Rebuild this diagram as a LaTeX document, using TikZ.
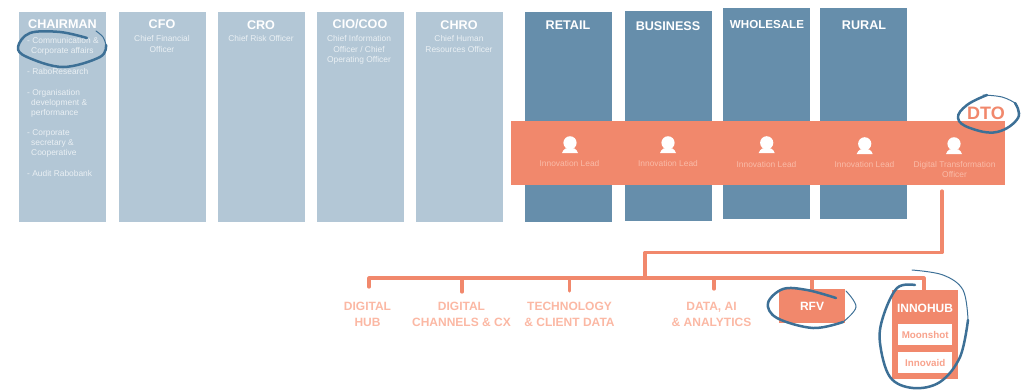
\documentclass[tikz,border=0pt]{standalone}
\usepackage{fontspec}
\setmainfont{Liberation Sans}
\definecolor{paleblue}{HTML}{B3C7D6}
\definecolor{midblue}{HTML}{668EAB}
\definecolor{coral}{HTML}{F1886C}
\definecolor{palecoral}{HTML}{FBB8A4}
\definecolor{innertext}{HTML}{F8A28C}
\definecolor{leadtext}{HTML}{FABBA8}
\definecolor{subtext}{HTML}{EAF0F4}
\definecolor{inkblue}{HTML}{3D7096}
\newcommand{\personicon}[2]{%
  \fill[white] (#1,#2-3.2) circle (6.6);
  \fill[white] (#1-8,#2+7) .. controls (#1-6.5,#2+2.5) and (#1-3,#2+1.5) .. (#1,#2+1.5) .. controls (#1+3,#2+1.5) and (#1+6.5,#2+2.5) .. (#1+8,#2+7) -- cycle;
}
\tikzset{
  x=1pt,y=-1pt,
  column/.style={anchor=north west,inner sep=0pt,minimum width=87pt},
  paleblock/.style={column,fill=paleblue,minimum height=210pt},
  midblock/.style={column,fill=midblue,minimum height=210pt},
  headtext/.style={text=white,font=\bfseries\fontsize{12.6}{15}\selectfont,inner sep=0pt,anchor=center},
  subnote/.style={text=subtext,font=\fontsize{8.4}{10.8}\selectfont,inner sep=0pt,align=center,anchor=north},
  listnote/.style={text=subtext,font=\fontsize{8.4}{10}\selectfont,inner sep=0pt,align=left,anchor=north west},
  leadnote/.style={text=leadtext,font=\fontsize{8.4}{10}\selectfont,inner sep=0pt,align=center,anchor=north},
  unitlabel/.style={text=palecoral,font=\bfseries\fontsize{12}{16}\selectfont,inner sep=0pt,align=center,anchor=north},
  link/.style={draw=coral,line width=3.2pt,line cap=round,line join=round},
  scribble/.style={draw=inkblue,line width=2.5pt,line cap=round,line join=round},
  scribbleend/.style={draw=inkblue,line width=1pt,line cap=round},
  innerbox/.style={fill=white,text=innertext,font=\bfseries\fontsize{9.8}{11}\selectfont,minimum width=54pt,minimum height=21pt,inner sep=0pt,anchor=north west},
}
\begin{document}
\begin{tikzpicture}
\useasboundingbox (0,0) rectangle (1024,389);
% pale columns
\node[paleblock] (chairbox) at (19,12) {};
\node[paleblock] (cfobox) at (119,12) {};
\node[paleblock] (crobox) at (218,12) {};
\node[paleblock] (ciobox) at (317,12) {};
\node[paleblock] (chrobox) at (416,12) {};
% dark columns
\node[midblock] (retailbox) at (525,12) {};
\node[midblock,minimum height=210pt] (businessbox) at (625,11) {};
\node[midblock,minimum height=211pt] (wholesalebox) at (723,8) {};
\node[midblock,minimum height=211pt] (ruralbox) at (820,8) {};
% band
\node[fill=coral,anchor=north west,inner sep=0pt,minimum width=494pt,minimum height=64pt] (band) at (511,121) {};
% headers
\node[headtext] (chairhead) at (62.5,24.5) {CHAIRMAN};
\node[headtext] (cfohead) at (162,24.5) {CFO};
\node[headtext] (crohead) at (261,25) {CRO};
\node[headtext] (ciohead) at (360,24.5) {CIO/COO};
\node[headtext] (chrohead) at (459,25) {CHRO};
\node[headtext] (retailhead) at (568,25) {RETAIL};
\node[headtext] (businesshead) at (668,26.5) {BUSINESS};
\node[headtext,font=\bfseries\fontsize{11.6}{15}\selectfont] (wholesalehead) at (767,24.5) {WHOLESALE};
\node[headtext] (ruralhead) at (864,25.5) {RURAL};
% chairman list
\node[listnote] (l1) at (27,37.5) {- Communication \&\\\hspace*{4pt}Corporate affairs};
\node[listnote] (l2) at (27,68) {- RaboResearch};
\node[listnote] (l3) at (27,89) {- Organisation\\\hspace*{4pt}development \&\\\hspace*{4pt}performance};
\node[listnote] (l4) at (27,129) {- Corporate\\\hspace*{4pt}secretary \&\\\hspace*{4pt}Cooperative};
\node[listnote] (l5) at (27,170) {- Audit Rabobank};
% subtitles
\node[subnote] (cfonote) at (162,35) {Chief Financial\\Officer};
\node[subnote] (cronote) at (261,35) {Chief Risk Officer};
\node[subnote] (cionote) at (359,35) {Chief Information\\Officer / Chief\\Operating Officer};
\node[subnote] (chronote) at (459,35) {Chief Human\\Resources Officer};
% leads
\personicon{570}{146}
\personicon{668}{146}
\personicon{766.7}{146}
\personicon{864.7}{147}
\personicon{954}{147}
\node[leadnote] (lead1) at (569.5,160) {Innovation Lead};
\node[leadnote] (lead2) at (668,160) {Innovation Lead};
\node[leadnote] (lead3) at (766.5,161) {Innovation Lead};
\node[leadnote] (lead4) at (864.5,161) {Innovation Lead};
\node[leadnote] (lead5) at (954.5,161) {Digital Transformation\\Officer};
% DTO
\node[text=coral,font=\bfseries\fontsize{18}{20}\selectfont,inner sep=0pt] (dto) at (986,113.5) {DTO};
% unit boxes
\node[fill=coral,anchor=north west,inner sep=0pt,minimum width=66pt,minimum height=34pt] (rfvbox) at (779,289) {};
\node[text=white,font=\bfseries\fontsize{12}{14}\selectfont,inner sep=0pt] (rfvtext) at (812,306.5) {RFV};
\node[fill=coral,anchor=north west,inner sep=0pt,minimum width=66pt,minimum height=89pt] (innobox) at (892,290) {};
\node[text=white,font=\bfseries\fontsize{12}{14}\selectfont,inner sep=0pt] (innotext) at (925,308) {INNOHUB};
\node[innerbox] (moon) at (898,324) {Moonshot};
\node[innerbox] (innov) at (898,352) {Innovaid};
% unit labels
\node[unitlabel] (u1) at (367.5,302) {DIGITAL\\HUB};
\node[unitlabel] (u2) at (461.5,302) {DIGITAL\\CHANNELS \& CX};
\node[unitlabel] (u3) at (569.5,302) {TECHNOLOGY\\\& CLIENT DATA};
\node[unitlabel] (u4) at (711.5,302) {DATA, AI\\\& ANALYTICS};
% connectors
\coordinate (dtostart) at (942,191);
\coordinate (corner1) at (942,252.5);
\coordinate (corner2) at (645,252.5);
\coordinate (trunk) at (645,278);
\coordinate (busl) at (369,278);
\coordinate (busr) at (924,278);
\coordinate (d1) at (369,287);
\coordinate (d2) at (462,292);
\coordinate (b2) at (462,278);
\coordinate (d3) at (569.5,291);
\coordinate (b3) at (569.5,278);
\coordinate (d4) at (714,289);
\coordinate (b4) at (714,278);
\coordinate (b5) at (812,278);
\path[link] (dtostart) -- (corner1) -- (corner2) -- (trunk);
\path[link] (d1) -- (busl) -- (busr) -- (innobox.north -| busr);
\path[link] (b2) -- (d2);
\path[link] (b3) -- (d3);
\path[link] (b4) -- (d4);
\path[link] (b5) -- (rfvbox.north -| b5);
% scribbled circles
\path[scribble] plot[smooth,tension=0.6] coordinates {(87,38) (60,32) (30,33) (18,47) (27,57) (63,67) (100,57) (106,45)};
\path[scribbleend] plot[smooth,tension=0.6] coordinates {(106,45) (103,37) (96,31)};
\path[scribble] plot[smooth,tension=0.7] coordinates {(987,95) (967,105) (958,118) (970,128) (997,132) (1018,118) (1015,103)};
\path[scribbleend] plot[smooth,tension=0.7] coordinates {(1015,103) (1002,97) (983,95)};
\path[scribble] plot[smooth,tension=0.6] coordinates {(836,298) (807,290) (783,289) (768,303) (777,318) (813,328) (843,322)};
\path[scribbleend] plot[smooth,tension=0.6] coordinates {(843,322) (856,307) (846,291)};
\path[scribble] plot[smooth,tension=0.6] coordinates {(915,285) (897,288) (883,317) (880,343) (890,377) (913,388) (940,382) (960,357) (968,320)};
\path[scribbleend] plot[smooth,tension=0.6] coordinates {(968,320) (963,290) (943,275) (912,270)};
\end{tikzpicture}
\end{document}
